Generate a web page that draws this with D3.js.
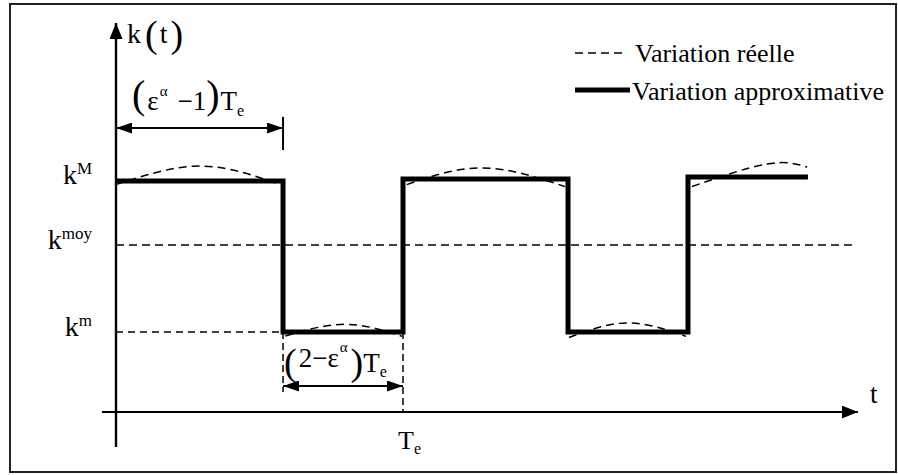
<!DOCTYPE html>
<html><head><meta charset="utf-8">
<script src="https://cdn.jsdelivr.net/npm/d3@7"></script>
<style>
body{margin:0;background:#fff}
svg{display:block}
</style>
</head><body><svg id="c" width="898" height="475" font-family="'Liberation Serif', 'Times New Roman', Times, serif"></svg>
<script>
// ---- data (t in units of Te, k normalised) ----
const switchTimes = [0, 0.582, 1, 1.575, 1.993, 2.411];
const approxLevels = [0.996, 0.345, 1.004, 0.345, 1.013];
const realArcs = [
  [[0.000, 0.980], [0.293, 1.060], [0.571, 0.980]],
  [[0.590, 0.328], [0.800, 0.378], [0.997, 0.326]],
  [[1.013, 0.980], [1.279, 1.052], [1.564, 0.972]],
  [[1.578, 0.321], [1.780, 0.384], [1.986, 0.326]],
  [[2.007, 0.972], [2.268, 1.069], [2.408, 1.056]]
];
const kM = 1.0, kmoy = 0.72, km = 0.345;
const Te = 1;
const levelLabels = [["M", kM], ["moy", kmoy], ["m", km]];
const legendItems = [["Variation réelle", true], ["Variation approximative", false]];
const tMax = 2.585, kMax = 1.677, tMin = -0.049, kMin = -0.151;
const kmoyEnd = 2.564;

// ---- scales ----
const x = d3.scaleLinear().domain([0, Te]).range([116, 403]);
const y = d3.scaleLinear().domain([0, 1]).range([412, 180]);

const svg = d3.select("#c");
const defs = svg.append("defs");
function marker(id, len, wid) {
  defs.append("marker").attr("id", id)
    .attr("viewBox", `0 0 ${len} ${wid}`).attr("refX", len).attr("refY", wid / 2)
    .attr("markerWidth", len).attr("markerHeight", wid)
    .attr("markerUnits", "userSpaceOnUse").attr("orient", "auto-start-reverse")
    .append("path").attr("d", `M0,0L${len},${wid / 2}L0,${wid}Z`).attr("fill", "#000");
}
marker("ax", 16, 13);
marker("dim", 16, 11);

// frame
svg.append("rect").attr("x", 10).attr("y", 4).attr("width", 886).attr("height", 468)
  .attr("fill", "none").attr("stroke", "#222").attr("stroke-width", 2);

// axes
svg.append("line").attr("x1", x(0)).attr("x2", x(0)).attr("y1", y(kMin)).attr("y2", y(kMax))
  .attr("stroke", "#000").attr("stroke-width", 2.4).attr("marker-end", "url(#ax)");
svg.append("line").attr("x1", x(tMin)).attr("x2", x(tMax)).attr("y1", y(0)).attr("y2", y(0))
  .attr("stroke", "#000").attr("stroke-width", 2.2).attr("marker-end", "url(#ax)");

// dashed guides
const dashed = (x1, y1, x2, y2, da) => svg.append("line")
  .attr("x1", x1).attr("y1", y1).attr("x2", x2).attr("y2", y2)
  .attr("stroke", "#000").attr("stroke-width", 1.5).attr("stroke-dasharray", da || "8,5");
dashed(x(0), y(kmoy), x(kmoyEnd), y(kmoy));
dashed(x(0), y(km), x(switchTimes[1]), y(km), "7,5");
dashed(x(switchTimes[1]), y(km), x(switchTimes[1]), y(0.086), "7,4");
dashed(x(Te), y(km), x(Te), y(0), "7,4");

// real variation arcs
const arcLine = d3.line().x(d => x(d[0])).y(d => y(d[1])).curve(d3.curveNatural);
svg.selectAll(".arc").data(realArcs).join("path").attr("class", "arc")
  .attr("d", arcLine).attr("fill", "none").attr("stroke", "#000")
  .attr("stroke-width", 1.5).attr("stroke-dasharray", "8,5");

// approximate variation
const stepPts = switchTimes.map((t, i) => [t, approxLevels[Math.min(i, approxLevels.length - 1)]]);
svg.append("path").attr("d", d3.line().x(d => x(d[0])).y(d => y(d[1])).curve(d3.curveStepAfter)(stepPts))
  .attr("fill", "none").attr("stroke", "#000").attr("stroke-width", 5).attr("stroke-linejoin", "miter");

// dimension arrows
svg.append("line").attr("x1", x(0)).attr("x2", x(switchTimes[1])).attr("y1", y(1.224)).attr("y2", y(1.224))
  .attr("stroke", "#000").attr("stroke-width", 2).attr("marker-start", "url(#dim)").attr("marker-end", "url(#dim)");
svg.append("line").attr("x1", x(switchTimes[1])).attr("x2", x(switchTimes[1])).attr("y1", y(1.272)).attr("y2", y(1.129))
  .attr("stroke", "#000").attr("stroke-width", 2);
svg.append("line").attr("x1", x(switchTimes[1])).attr("x2", x(Te)).attr("y1", y(0.112)).attr("y2", y(0.112))
  .attr("stroke", "#000").attr("stroke-width", 2).attr("marker-start", "url(#dim)").attr("marker-end", "url(#dim)");

// math text helper: parts = [text, size, baseline, dx]
function math(x0, parts) {
  const t = svg.append("text").attr("x", x0);
  parts.forEach(([s, size, base, dx]) => {
    t.append("tspan").attr("y", base).attr("dx", dx || 0).attr("font-size", size).text(s);
  });
  return t;
}

// level labels
levelLabels.forEach(([sup, v]) => {
  const b = y(v) + 4;
  const t = svg.append("text").attr("x", 92).attr("y", b).attr("text-anchor", "end");
  t.append("tspan").attr("font-size", 28).text("k");
  t.append("tspan").attr("dy", -10).attr("font-size", 17).text(sup);
});

// k(t)
math(127, [["k", 28, 43], ["(", 38, 47, 4], ["t", 28, 43, 2], [")", 38, 47, 3]]);
// (ε^α − 1) Te
math(132, [["(", 40, 108], ["ε", 27, 110, 2], ["α", 15, 96, 1], ["−1", 27, 110, 10], [")", 40, 108, 0], ["T", 27, 110, 1], ["e", 16, 116]]);
// (2 − ε^α) Te
math(284, [["(", 38, 375], ["2", 27, 367, 2], ["−", 27, 367, 0], ["ε", 27, 367, 0], ["α", 15, 352, 1], [")", 38, 375, 3], ["T", 27, 372, 0], ["e", 16, 377]]);
// Te on axis
math(x(Te) - 5, [["T", 26, 449], ["e", 16, 454]]);
// t label
math(870, [["t", 27, 403]]);

// legend
legendItems.forEach(([label, isDashed], i) => {
  const ly = i === 0 ? 53 : 90;
  const l = svg.append("line").attr("x1", 575).attr("x2", isDashed ? 625 : 630).attr("y1", ly).attr("y2", ly)
    .attr("stroke", "#000").attr("stroke-width", isDashed ? 1.5 : 5);
  if (isDashed) l.attr("stroke-dasharray", "8,5");
  svg.append("text").attr("x", isDashed ? 635 : 632).attr("y", ly + (isDashed ? 9 : 10))
    .attr("font-size", 26).text(label);
});
</script>
</body></html>
